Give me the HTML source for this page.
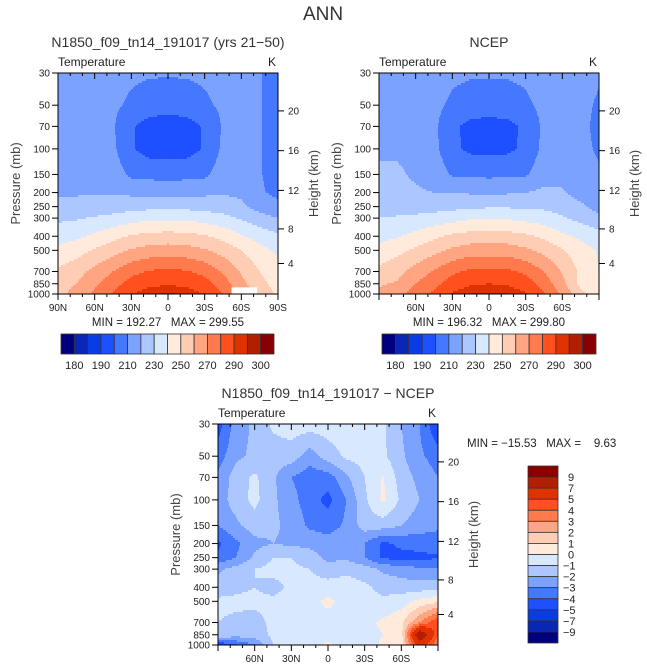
<!DOCTYPE html>
<html><head><meta charset="utf-8"><style>
body{margin:0;background:#fff;}
svg{display:block;font-family:"Liberation Sans",sans-serif;}
</style></head><body>
<svg id="chart" width="647" height="669" viewBox="0 0 647 669">
<text x="323" y="20" font-size="19" text-anchor="middle" fill="#333">ANN</text>
</svg>
<script>
// ===== data =====
const lats = [90,75,60,45,30,15,0,-15,-30,-45,-60,-75,-90];
const presLevels = [30,50,70,100,150,200,250,300,400,500,700,850,1000];
const modelT = [
[215,215,215,215,212,211,211,211,212,214,212,210.5,206],
[215,215,215,212,208,205,204,205,208,212,214,210.5,206],
[215,216,216,211,201,196,195,196,201,211,214,210.5,206],
[216,217,217,212,201,196,195,196,201,212,215,210.5,206],
[217,219,218,215,208,207,207,207,208,215,216,210.5,207],
[219,219,219,219,218,217,216,217,218,219,218,211,208],
[222,223,224,225,226,227,227,227,226,225,222,216,212],
[228,229,231,233,236,238,238,238,236,233,229,224,220],
[236,238,242,247,251,253,254,253,251,247,241,236,232],
[242,246,251,256,261,264,265,264,261,256,250,243,238],
[252,256,263,270,277,281,282,281,277,269,259,250,244],
[258,260,268,276,284,288,289,288,284,275,263,253,246],
[258,262,272,281,290,294,296,294,290,280,268,258,248]];
const ncepT = [
[217,217,216,215,212,211,211,211,212,214,213,212,211],
[217,216,216,213,208,206,205,206,208,213,215,212,209],
[217,217,216,212,202,197,196,197,202,212,215,212,208],
[219,219,218,213,202,198,197,198,202,213,216,212,209],
[221,221,219,216,209,208,208,208,209,216,217,214,211],
[222,222,221,220,220,219,218,219,220,222,221,216,212],
[225,226,226,226,227,228,229,229,228,228,226,222,216],
[230,231,232,234,236,239,239,239,237,235,231,227,223],
[237,239,243,248,252,254,255,254,252,248,242,238,234],
[243,247,252,257,262,265,265,265,262,257,251,244,239],
[253,257,264,271,278,282,283,282,278,270,259,248,240],
[259,261,270,277,285,289,290,289,285,276,263,247,242],
[262,266,275,282,291,295,296,295,291,281,268,253,245]];
const diffT = [
[-4.5,-2.5,-1.8,-0.8,-0.5,-0.5,-0.5,-0.5,-0.6,-0.8,-2,-3,-5],
[-3.5,-2.2,-1.8,-1.5,-1.5,-2.5,-1.5,-0.8,-0.6,-0.8,-1.8,-2.8,-3.5],
[-2.8,-1.5,-0.8,-1.8,-3,-3.6,-3.5,-2.2,-1,0.1,-1.5,-2.3,-3],
[-2.5,-1.5,-0.7,-1.8,-2.6,-3.6,-4.3,-3,-1.2,0.2,-1.2,-2,-2.5],
[-3,-2.2,-1.5,-1.8,-2.3,-3.2,-3.5,-2.8,-1.5,-1.5,-2,-2.5,-2.8],
[-4.2,-3.2,-2.3,-2,-2.2,-2.3,-2.5,-2.3,-3,-4.2,-3.8,-3.6,-3.5],
[-3.8,-3,-1.8,-1,-1,-1.5,-2.3,-2.2,-3,-4.2,-4.3,-4.3,-4.1],
[-2.2,-1.6,-1,-0.7,-0.8,-1,-1.5,-1.2,-1.5,-2.2,-2.5,-2.8,-2.8],
[-1.5,-1.2,-1,-1.3,-0.8,-0.7,-0.6,-0.6,-0.8,-1.3,-1.5,-1.5,-1.5],
[-0.8,-0.8,-0.8,-0.8,-0.7,-0.5,0.3,-0.5,-0.7,-0.8,-0.5,0.3,0.8],
[-1,-1.2,-1.3,-0.8,-0.6,-0.3,-0.5,-0.6,-0.3,0.2,0.8,3,5],
[-1,-1.5,-1.5,-0.8,-0.6,-0.4,-0.3,-0.6,-0.5,0,0.5,9,4],
[-5,-4,-3,-1,-0.5,-0.3,0.2,-0.5,-0.5,0.2,0.5,6,3]];
const tempLevels = [180,185,190,200,210,220,230,240,250,260,270,280,290,295,300];
const tempLabels = ["180","190","210","230","250","270","290","300"];
const diffLevels = [-9,-7,-5,-4,-3,-2,-1,0,1,2,3,4,5,7,9];
const diffLabels = ["9","7","5","4","3","2","1","0","\u22121","\u22122","\u22123","\u22124","\u22125","\u22127","\u22129"];
const presTicks = [30,50,70,100,150,200,250,300,400,500,700,850,1000];
const kmTicks = [4,8,12,16,20];
const palette = ["#00007f","#0a26b4","#0a3ce6","#1e50ff","#4678ff","#7ca2ff","#acc6ff","#d8e8ff","#ffeadc","#ffcdb4","#ffa582","#ff7a4c","#ff501e","#e03200","#b41e00","#8a0000"];

// ===== helpers =====
const NS="http://www.w3.org/2000/svg";
const svg=document.getElementById('chart');
function mk(tag,attrs,parent){const e=document.createElementNS(NS,tag);for(const k in attrs)e.setAttribute(k,attrs[k]);(parent||svg).appendChild(e);return e;}
function txt(x,y,s,size,anchor,parent){const t=mk('text',{x:x,y:y,'font-size':size,'text-anchor':anchor||'start',fill:'#222'},parent);t.textContent=s;return t;}
function kmToP(z){return z<=11?1013.25*Math.pow(1-z/44.33,5.256):226.3*Math.exp(-(z-11)/6.34);}
function sample(grid,lat,p){
  const fc=Math.min(11.9999,Math.max(0,(90-lat)/15));const c=Math.floor(fc),tc=fc-c;
  const lp=Math.log(p);let r=0;while(r<11&&Math.log(presLevels[r+1])<lp)r++;
  const tr=Math.max(0,Math.min(1,(lp-Math.log(presLevels[r]))/(Math.log(presLevels[r+1])-Math.log(presLevels[r]))));
  const a=grid[r][c]*(1-tc)+grid[r][c+1]*tc, b=grid[r+1][c]*(1-tc)+grid[r+1][c+1]*tc;
  return a*(1-tr)+b*tr;}
function levelIdx(v,levels){let i=0;while(i<levels.length&&v>=levels[i])i++;return i;}

function panel(cfg){
  const g=mk('g',{});
  
  
  const {x0,y0,w,h}=cfg;
  const yOf=p=>y0+h*Math.log(p/30)/Math.log(1000/30);
  const xOf=lat=>x0+w*(90-lat)/180;
  const fill=mk('g',{},g);
  
  
  const step=2;
  for(let yy=0;yy<h;yy+=step){
    const p=30*Math.exp(((yy+step/2)/h)*Math.log(1000/30));
    let runStart=0,runC=-1;
    for(let xx=0;xx<=w;xx++){
      let ci=-2;
      if(xx<w){const lat=90-180*(xx+0.5)/w;ci=levelIdx(sample(cfg.grid,lat,p),cfg.levels);}
      if(ci!==runC){
        if(runC>=0){const r=mk('rect',{x:x0+runStart,y:y0+yy,width:xx-runStart,height:Math.min(step,h-yy)+0.3,fill:palette[runC]},fill);
          
          }
        runStart=xx;runC=ci;}
    }
  }
  if(cfg.mask){const m=mk('rect',{x:xOf(cfg.mask[0]),y:yOf(cfg.mask[2]),width:xOf(cfg.mask[1])-xOf(cfg.mask[0]),height:y0+h-yOf(cfg.mask[2]),fill:'#fff'},g);
    }
  mk('rect',{x:x0,y:y0,width:w,height:h,fill:'none',stroke:'#000','stroke-width':1},g);
  for(let lat=90;lat>=-90;lat-=10){const x=xOf(lat);const L=lat%30===0?6:3;
    mk('line',{x1:x,x2:x,y1:y0,y2:y0+L,stroke:'#000'},g);mk('line',{x1:x,x2:x,y1:y0+h,y2:y0+h+L,stroke:'#000'},g);}
  cfg.xlabels.forEach(s=>{const v=s==='0'?0:(s.endsWith('N')?+s.slice(0,-1):-s.slice(0,-1));const t=txt(xOf(v),y0+h+17,s,10,'middle',g);
    });
  presTicks.forEach(p=>{const y=yOf(p);mk('line',{x1:x0-6,x2:x0,y1:y,y2:y,stroke:'#000'},g);
    const t=txt(x0-8,y+3.5,String(p),10,'end',g);});
  kmTicks.forEach(z=>{const y=yOf(kmToP(z));mk('line',{x1:x0+w,x2:x0+w+6,y1:y,y2:y,stroke:'#000'},g);
    const t=txt(x0+w+10,y+3.5,String(z),10,'start',g);});
  let t=txt(x0-38,y0+h/2,'Pressure (mb)',13,'middle',g);t.setAttribute('transform',`rotate(-90 ${x0-38} ${y0+h/2})`);t.setAttribute('fill','#444');
  
  t=txt(x0+w+40,y0+h/2,'Height (km)',13,'middle',g);t.setAttribute('transform',`rotate(-90 ${x0+w+40} ${y0+h/2})`);t.setAttribute('fill','#444');
  
  t=txt(x0,y0-7,'Temperature',12,'start',g);
  t=txt(x0+w-2,y0-7,'K',12,'end',g);
  t=txt(x0+w/2,y0-26,cfg.title,14,'middle',g);t.setAttribute('fill','#333');
  t=txt(cfg.mmx,cfg.mmy,cfg.minmax,11.5,cfg.mmAnchor||'middle',g);t.setAttribute('xml:space','preserve');t.style.whiteSpace='pre';
  
}
function hbar(x0,y0,w,h,name){
  const g=mk('g',{});
  const bw=w/16;
  for(let i=0;i<16;i++){const r=mk('rect',{x:x0+i*bw,y:y0,width:bw,height:h,fill:palette[i],stroke:'#333','stroke-width':0.8},g);
    }
  tempLabels.forEach((s,k)=>{const t=txt(x0+(2*k+1)*bw,y0+h+15,s,11,'middle',g);});
}
function vbar(x0,y0,w,h){
  const g=mk('g',{});
  const bh=h/16;
  for(let i=0;i<16;i++){const r=mk('rect',{x:x0,y:y0+i*bh,width:w,height:bh,fill:palette[15-i],stroke:'#333','stroke-width':0.8},g);
    }
  diffLabels.forEach((s,k)=>{const t=txt(x0+w+(s.startsWith('\u2212')?5:10),y0+(k+1)*bh+4,s,11,'start',g);});
}
panel({name:'model-panel',x0:58,y0:73,w:220,h:221,grid:modelT,levels:tempLevels,title:'N1850_f09_tn14_191017 (yrs 21\u221250)',
  xlabels:['90N','60N','30N','0','30S','60S','90S'],minmax:'MIN = 192.27   MAX = 299.55',mmx:168,mmy:326,mask:[-52,-73,900]});
panel({name:'ncep-panel',x0:379,y0:73,w:220,h:221,grid:ncepT,levels:tempLevels,title:'NCEP',
  xlabels:['60N','30N','0','30S','60S'],minmax:'MIN = 196.32   MAX = 299.80',mmx:489,mmy:326});
panel({name:'difference-panel',x0:218,y0:424,w:220,h:221,grid:diffT,levels:diffLevels,title:'N1850_f09_tn14_191017 \u2212 NCEP',
  xlabels:['60N','30N','0','30S','60S'],minmax:'MIN = \u221215.53   MAX =    9.63',mmx:467,mmy:447,mmAnchor:'start'});
hbar(61,334,213,20,'model-colorbar');
hbar(382,334,214,20,'ncep-colorbar');
vbar(528,466,30,177);
</script>
</body></html>
